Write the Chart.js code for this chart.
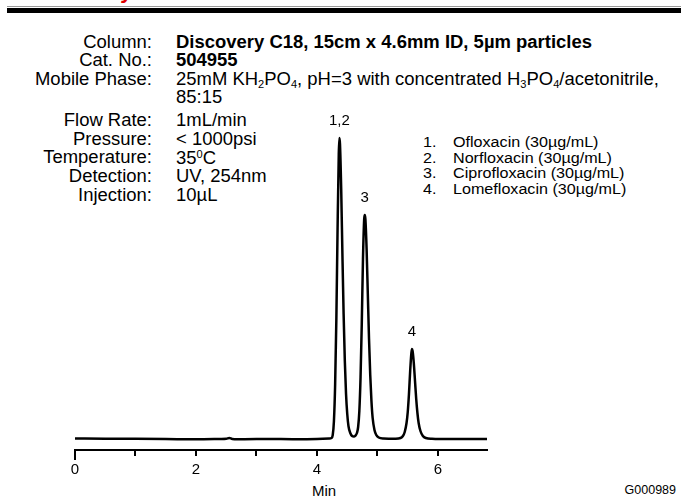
<!DOCTYPE html>
<html>
<head>
<meta charset="utf-8">
<script src="https://cdn.jsdelivr.net/npm/chart.js@4"></script>
<style>
  html, body { margin: 0; padding: 0; background: #fff; overflow: hidden; }
  #wrap { position: relative; width: 681px; height: 500px; overflow: hidden; font-family: "Liberation Sans", Arial, sans-serif; color: #000; }
  #chart { position: absolute; left: 0; top: 0; }
  .t { position: absolute; white-space: nowrap; line-height: 1; }
  .lab { text-align: right; width: 150px; left: 2px; font-size: 17.5px; transform: scaleX(1.055); transform-origin: right center; }
  .val { left: 176px; font-size: 17.5px; transform: scaleX(1.055); transform-origin: left center; }
  .leg { font-size: 15.5px; transform: scaleX(1.04); transform-origin: left center; }
  sub { font-size: 0.6em; vertical-align: -0.3em; }
  sup { font-size: 0.6em; vertical-align: 0.6em; }
</style>
</head>
<body>
<div id="wrap">
  <div class="t" style="left:29px;top:-20px;font-size:22px;font-weight:bold;font-style:italic;color:#e00000">Discovery</div>
  <div style="position:absolute;left:7px;right:0;top:6px;height:1px;background:#999"></div>
  <div style="position:absolute;left:7px;right:0;top:8px;height:5px;background:#000"></div>

  <div class="t lab" style="top:34px">Column:</div>
  <div class="t val" style="top:34px;font-weight:bold">Discovery C18, 15cm x 4.6mm ID, 5µm particles</div>
  <div class="t lab" style="top:52px">Cat. No.:</div>
  <div class="t val" style="top:52px;font-weight:bold">504955</div>
  <div class="t lab" style="top:71px">Mobile Phase:</div>
  <div class="t val" style="top:71px">25mM KH<sub>2</sub>PO<sub>4</sub>, pH=3 with concentrated H<sub>3</sub>PO<sub>4</sub>/acetonitrile,</div>
  <div class="t val" style="top:89px">85:15</div>
  <div class="t lab" style="top:112px">Flow Rate:</div>
  <div class="t val" style="top:112px">1mL/min</div>
  <div class="t lab" style="top:131px">Pressure:</div>
  <div class="t val" style="top:131px">&lt; 1000psi</div>
  <div class="t lab" style="top:149px">Temperature:</div>
  <div class="t val" style="top:149px">35<sup>0</sup>C</div>
  <div class="t lab" style="top:168px">Detection:</div>
  <div class="t val" style="top:168px">UV, 254nm</div>
  <div class="t lab" style="top:187px">Injection:</div>
  <div class="t val" style="top:187px">10µL</div>

  <div id="legend"></div>

  <div class="t" style="left:312px;top:483px;font-size:15px">Min</div>
  <div class="t" style="right:5px;top:484px;font-size:12.5px">G000989</div>

  <canvas id="chart" width="681" height="500"></canvas>
</div>
<script>
// retention time (min) and detector response
const times = [
  0, 0.5, 1.0, 1.5, 2.0, 2.4, 2.5, 2.55, 2.6, 2.8, 3.2, 3.6, 4.0, 4.2,
  4.24, 4.26, 4.28, 4.30, 4.32, 4.34, 4.36, 4.37, 4.38, 4.40, 4.42, 4.44, 4.46, 4.48, 4.50, 4.52, 4.55, 4.58, 4.61,
  4.63, 4.66, 4.68, 4.70, 4.72, 4.74, 4.76, 4.78, 4.79, 4.80, 4.82, 4.84, 4.86, 4.88, 4.90, 4.92, 4.95, 4.98, 5.02, 5.10,
  5.30, 5.38, 5.42, 5.45, 5.48, 5.50, 5.52, 5.54, 5.56, 5.57, 5.58, 5.60, 5.62, 5.64, 5.66, 5.68, 5.71, 5.75, 5.80, 5.90,
  6.2, 6.5, 6.81
];
const response = [
  0.5, 0.3, 0.2, 0, -0.3, 0, 0.2, 1, 0.1, -0.2, 0, -0.2, 0, 0.5,
  1, 4, 18, 55, 120, 210, 285, 301, 295, 250, 185, 125, 78, 45, 25, 13, 6, 3, 2.5,
  3, 6, 12, 28, 62, 115, 180, 220, 224, 220, 190, 145, 100, 64, 38, 21, 9, 4, 1.5, 0.5,
  0.3, 1, 3, 7, 16, 27, 45, 68, 86, 90, 88, 76, 58, 40, 26, 16, 8, 3, 1, 0.3,
  0, 0, 0
];

const peakLabels = ["1,2", "3", "4"];
const peakTimes = [4.37, 4.79, 5.57];

const compounds = [
  "Ofloxacin (30µg/mL)",
  "Norfloxacin (30µg/mL)",
  "Ciprofloxacin (30µg/mL)",
  "Lomefloxacin (30µg/mL)"
];

const xTicks = [0, 2, 4, 6];

// legend block
const legend = document.getElementById("legend");
compounds.forEach((name, i) => {
  const top = 134 + i * 15.7;
  legend.insertAdjacentHTML("beforeend",
    `<div class="t leg" style="left:423px;top:${top}px">${i + 1}.</div>` +
    `<div class="t leg" style="left:453px;top:${top}px">${name}</div>`);
});

const peakLabelPlugin = {
  id: "peakLabels",
  afterDatasetsDraw(chart) {
    const { ctx, scales: { x, y } } = chart;
    ctx.save();
    ctx.font = "15px 'Liberation Sans', Arial, sans-serif";
    ctx.fillStyle = "#000";
    ctx.textAlign = "center";
    ctx.textBaseline = "middle";
    peakLabels.forEach((lab, i) => {
      const idx = times.indexOf(peakTimes[i]);
      ctx.fillText(lab, x.getPixelForValue(times[idx]), y.getPixelForValue(response[idx]) - 17);
    });
    // longer tick at the origin
    const x0 = Math.round(x.getPixelForValue(0));
    ctx.strokeStyle = "#000";
    ctx.lineWidth = 2;
    ctx.beginPath();
    ctx.moveTo(x0, chart.chartArea.bottom);
    ctx.lineTo(x0, chart.chartArea.bottom + 10);
    ctx.stroke();
    ctx.restore();
  }
};

new Chart(document.getElementById("chart"), {
  type: "line",
  data: {
    datasets: [{
      data: times.map((t, i) => ({ x: t, y: response[i] })),
      borderColor: "#000",
      borderWidth: 2.5,
      pointRadius: 0,
      cubicInterpolationMode: "monotone",
      borderJoinStyle: "round",
      fill: false
    }]
  },
  options: {
    responsive: false,
    animation: false,
    devicePixelRatio: 1,
    layout: { padding: { left: 75, right: 194, top: 100, bottom: 20 } },
    plugins: { legend: { display: false }, tooltip: { enabled: false } },
    scales: {
      x: {
        type: "linear",
        min: 0,
        max: 6.81,
        afterFit(scale) { scale.height = 30; },
        border: { display: true, color: "#000", width: 2 },
        grid: { drawOnChartArea: false, drawTicks: true, tickLength: 6, color: "#000", lineWidth: 2 },
        ticks: {
          stepSize: 1,
          includeBounds: false,
          maxRotation: 0,
          autoSkip: false,
          padding: 5,
          color: "#000",
          font: { family: "'Liberation Sans', Arial, sans-serif", size: 15 },
          callback: v => xTicks.includes(v) ? v : ""
        }
      },
      y: {
        display: false,
        min: -11,
        max: 339
      }
    }
  },
  plugins: [peakLabelPlugin]
});
</script>
</body>
</html>
